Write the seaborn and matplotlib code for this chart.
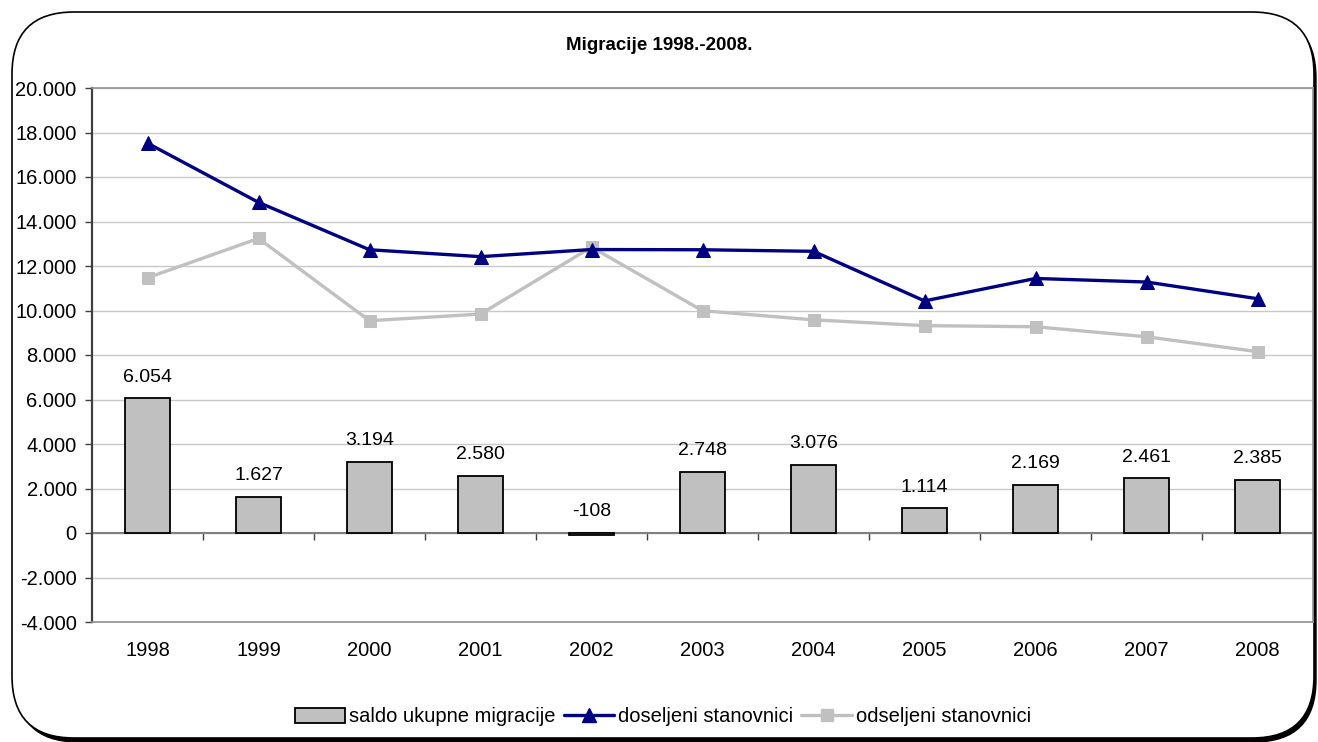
import numpy as np
import matplotlib
matplotlib.use("Agg")
import matplotlib.pyplot as plt
import seaborn as sns
from matplotlib.patches import FancyBboxPatch, Patch
from matplotlib.lines import Line2D
from matplotlib.ticker import FuncFormatter
from matplotlib.transforms import IdentityTransform

# data
years = ["1998", "1999", "2000", "2001", "2002", "2003", "2004", "2005", "2006", "2007", "2008"]
saldo = [6054, 1627, 3194, 2580, -108, 2748, 3076, 1114, 2169, 2461, 2385]
doseljeni = [17520, 14860, 12730, 12420, 12740, 12730, 12660, 10430, 11440, 11280, 10530]
odseljeni = [11470, 13240, 9540, 9840, 12850, 9990, 9580, 9320, 9270, 8820, 8150]

title = "Migracije 1998.-2008."
legend_labels = ["saldo ukupne migracije", "doseljeni stanovnici", "odseljeni stanovnici"]

sns.set_style("white")
plt.rcParams["font.family"] = ["Liberation Sans", "DejaVu Sans"]
plt.rcParams["text.color"] = "black"
plt.rcParams["xtick.labelcolor"] = "black"
plt.rcParams["ytick.labelcolor"] = "black"

fig = plt.figure(figsize=(13.18, 7.42), dpi=100)
fig.patch.set_facecolor("white")

# rounded chart border with shadow (pixel coords)
shadow = FancyBboxPatch((16, 0), 1300, 726, boxstyle="round,pad=0,rounding_size=62",
                        transform=IdentityTransform(), facecolor="black", edgecolor="black",
                        lw=1, zorder=-3)
frame = FancyBboxPatch((12, 4), 1302, 726, boxstyle="round,pad=0,rounding_size=62",
                       transform=IdentityTransform(), facecolor="white", edgecolor="black",
                       lw=1.2, zorder=-2)
fig.patches.extend([shadow, frame])

ax = fig.add_axes([92 / 1318, 1 - 622 / 742, (1313 - 92) / 1318, (622 - 88) / 742])
ax.set_facecolor("none")

x = np.arange(len(years))
sns.barplot(x=years, y=saldo, color="#c0c0c0", saturation=1, edgecolor="black",
            linewidth=1.3, width=0.41, ax=ax, zorder=3)
sns.lineplot(x=x, y=doseljeni, color="#000080", lw=2.4, marker="^", markersize=10,
             markeredgecolor="#000080", ax=ax, zorder=5)
sns.lineplot(x=x, y=odseljeni, color="#c0c0c0", lw=2.4, marker="s", markersize=8,
             markeredgecolor="#c0c0c0", ax=ax, zorder=4)

fmt = lambda v: f"{v:,.0f}".replace(",", ".")
for i, v in enumerate(saldo):
    ax.annotate(fmt(v), (i, max(v, 0)), xytext=(0, 9), textcoords="offset points",
                ha="center", va="bottom", fontsize=14, color="black", zorder=6)

ax.set_xlim(-0.5, len(years) - 0.5)
ax.set_ylim(-4000, 20000)
ax.set_yticks(np.arange(-4000, 20001, 2000))
ax.yaxis.set_major_formatter(FuncFormatter(lambda v, p: fmt(v)))
ax.grid(axis="y", color="#c8c8c8", lw=1)
ax.grid(axis="x", visible=False)
ax.axhline(0, color="#808080", lw=1.5, zorder=2)

ax.tick_params(axis="y", left=True, length=5, width=1, color="#404040", pad=6, labelsize=14.5)
ax.tick_params(axis="x", bottom=False, length=0, pad=14, labelsize=14.5)
ax.set_xlabel("")
ax.set_ylabel("")

for s in ["top", "right", "bottom"]:
    ax.spines[s].set_color("#909090")
    ax.spines[s].set_linewidth(1.2)
ax.spines["left"].set_color("#404040")
ax.spines["left"].set_linewidth(1.6)

# category boundary ticks on the zero line
sec = ax.secondary_xaxis(0, transform=ax.transData)
sec.set_xticks(np.arange(0.5, len(years) - 0.5, 1))
sec.tick_params(axis="x", length=5, width=1, color="#404040", labelbottom=False)
sec.spines["bottom"].set_visible(False)

fig.text(0.5, 1 - 45 / 742, title, ha="center", va="center", fontsize=13.5, fontweight="bold")

handles = [
    Patch(facecolor="#c0c0c0", edgecolor="black", lw=1.3),
    Line2D([], [], color="#000080", lw=2.4, marker="^", markersize=10),
    Line2D([], [], color="#c0c0c0", lw=2.4, marker="s", markersize=8),
]
fig.legend(handles, legend_labels, loc="center", bbox_to_anchor=(0.503, 1 - 717 / 742),
           ncol=3, frameon=False, fontsize=14.5, handlelength=2.5, handletextpad=0.2,
           columnspacing=0.4)

fig.savefig("out.png", dpi=100)
